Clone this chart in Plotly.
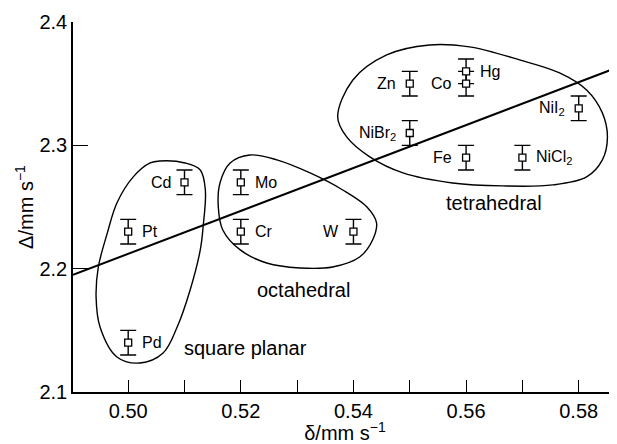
import plotly.graph_objects as go

# ---- data ----
names = ["Pt", "Pd", "Cd", "Mo", "Cr", "W", "Zn", "Co", "Hg", "NiBr<sub>2</sub>", "Fe", "NiCl<sub>2</sub>", "NiI<sub>2</sub>"]
delta_small = [0.50, 0.50, 0.51, 0.52, 0.52, 0.54, 0.55, 0.56, 0.56, 0.55, 0.56, 0.57, 0.58]
delta_big = [2.23, 2.14, 2.27, 2.27, 2.23, 2.23, 2.35, 2.35, 2.36, 2.31, 2.29, 2.29, 2.33]
err = [0.01] * 13
label_side = ["right", "right", "left", "right", "right", "left", "left", "left", "right", "left", "left", "right", "left"]

fit_x = [0.4902, 0.5868]
fit_y = [2.195, 2.363]

sq_x = [0.5057, 0.5101, 0.5128, 0.5137, 0.5133, 0.5128, 0.5110, 0.5087, 0.5062, 0.5021, 0.4980, 0.4950, 0.4943, 0.4947, 0.4963, 0.4980, 0.5009, 0.5039]
sq_y = [2.2873, 2.2857, 2.2800, 2.2638, 2.2338, 2.2152, 2.1827, 2.1527, 2.1316, 2.1235, 2.1284, 2.1527, 2.1770, 2.2014, 2.2290, 2.2533, 2.2744, 2.2857]

oc_x = [0.5181, 0.5216, 0.5264, 0.5323, 0.5381, 0.5424, 0.5441, 0.5434, 0.5411, 0.5363, 0.5305, 0.5246, 0.5199, 0.5168, 0.5160, 0.5163]
oc_y = [2.2857, 2.2922, 2.2882, 2.2776, 2.2638, 2.2500, 2.2371, 2.2233, 2.2095, 2.2014, 2.2006, 2.2046, 2.2152, 2.2314, 2.2500, 2.2695]

te_x = [0.5372, 0.5399, 0.5459, 0.5535, 0.5606, 0.5695, 0.5766, 0.5814, 0.5842, 0.5851, 0.5842, 0.5814, 0.5754, 0.5665, 0.5576, 0.5488, 0.5429, 0.5388]
te_y = [2.3230, 2.3530, 2.3733, 2.3814, 2.3798, 2.3693, 2.3587, 2.3449, 2.3263, 2.3068, 2.2882, 2.2744, 2.2679, 2.2671, 2.2695, 2.2776, 2.2906, 2.3068]

region_names = ["square planar", "octahedral", "tetrahedral"]
region_x = [0.5209, 0.5312, 0.5649]
region_y = [2.1357, 2.1827, 2.2533]

x_ticks = [0.50, 0.51, 0.52, 0.53, 0.54, 0.55, 0.56, 0.57, 0.58]
x_ticktext = ["0.50", "", "0.52", "", "0.54", "", "0.56", "", "0.58"]
y_ticks = [2.1, 2.2, 2.3, 2.4]
y_ticktext = ["2.1", "2.2", "2.3", "2.4"]

FONT = "Liberation Sans, Arial, Helvetica, sans-serif"

fig = go.Figure()

for xs, ys in [(sq_x, sq_y), (oc_x, oc_y), (te_x, te_y)]:
    fig.add_trace(go.Scatter(x=xs + xs[:1], y=ys + ys[:1], mode="lines",
                             line=dict(color="black", width=1.4, shape="spline", smoothing=1.0),
                             hoverinfo="skip", showlegend=False))

fig.add_trace(go.Scatter(x=fit_x, y=fit_y, mode="lines",
                         line=dict(color="black", width=2), showlegend=False))

fig.add_trace(go.Scatter(x=delta_small, y=delta_big, mode="markers",
                         marker=dict(symbol="square", size=7, color="white",
                                     line=dict(color="black", width=1.3)),
                         error_y=dict(type="data", array=err, visible=True,
                                      color="black", thickness=1.4, width=8),
                         showlegend=False))

for n, x, y, s in zip(names, delta_small, delta_big, label_side):
    fig.add_annotation(x=x, y=y, text=n, showarrow=False,
                       xanchor="left" if s == "right" else "right",
                       xshift=12 if s == "right" else -12,
                       font=dict(family=FONT, size=16, color="black"))

for n, x, y in zip(region_names, region_x, region_y):
    fig.add_annotation(x=x, y=y, text=n, showarrow=False,
                       font=dict(family=FONT, size=20, color="black"))

# page body has an 8px margin: compensate so the plot area lands where the reference has it
fig.update_layout(
    width=609, height=436,
    margin=dict(l=65, r=0, t=14, b=52),
    paper_bgcolor="white", plot_bgcolor="white",
    font=dict(family=FONT, color="black"),
    xaxis=dict(range=[0.4902, 0.5868], tickvals=x_ticks, ticktext=x_ticktext,
               ticks="inside", ticklen=12, tickwidth=1.3, tickcolor="black",
               showline=True, linecolor="black", linewidth=1.5, showgrid=False, zeroline=False,
               tickfont=dict(family=FONT, size=20), automargin=False,
               title=dict(text="δ/mm s<sup>−1</sup>", font=dict(family=FONT, size=20), standoff=0)),
    yaxis=dict(range=[2.1, 2.4], tickvals=y_ticks, ticktext=y_ticktext,
               ticks="inside", ticklen=15, tickwidth=1.3, tickcolor="black",
               showline=True, linecolor="black", linewidth=1.5, showgrid=False, zeroline=False,
               tickfont=dict(family=FONT, size=20), automargin=False,
               title=dict(text="Δ/mm s<sup>−1</sup>", font=dict(family=FONT, size=20), standoff=0)),
)

fig.write_html("out.html")
